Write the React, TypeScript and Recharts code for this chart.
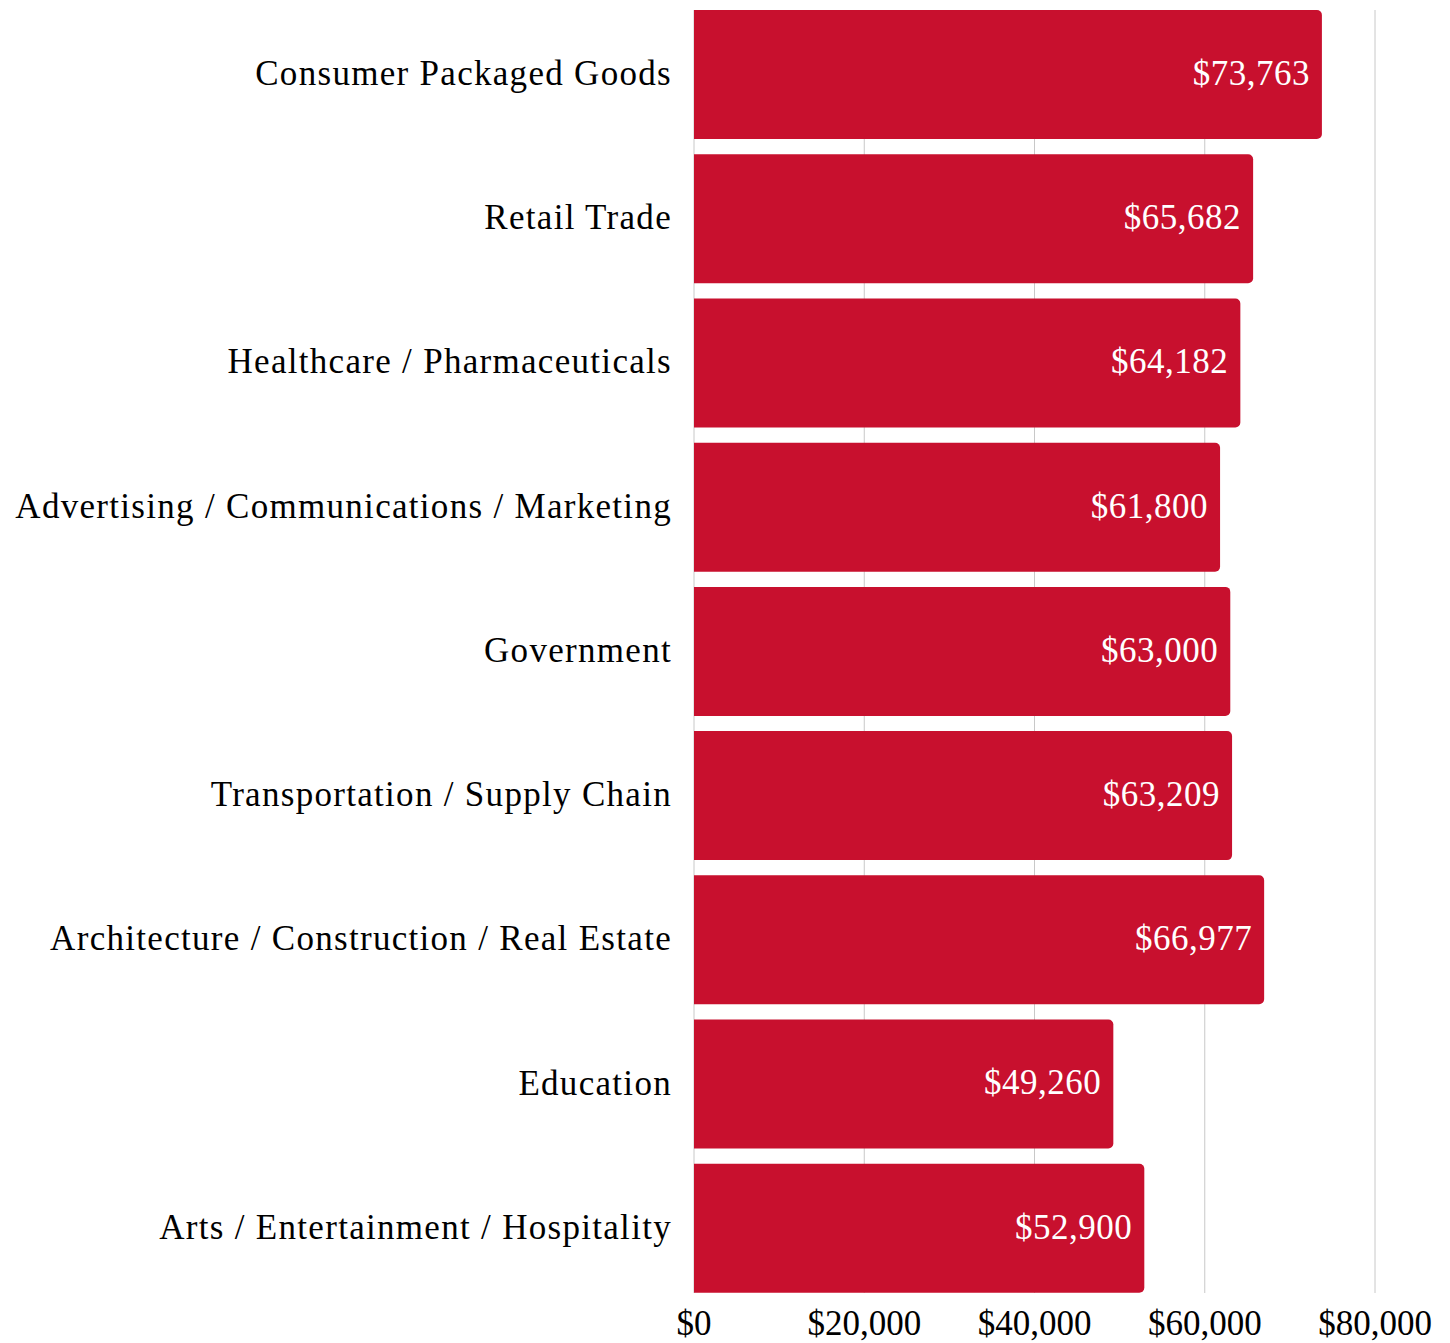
import { Bar, BarChart, CartesianGrid, LabelList, XAxis, YAxis } from "recharts"

const industries = [
  "Consumer Packaged Goods",
  "Retail Trade",
  "Healthcare / Pharmaceuticals",
  "Advertising / Communications / Marketing",
  "Government",
  "Transportation / Supply Chain",
  "Architecture / Construction / Real Estate",
  "Education",
  "Arts / Entertainment / Hospitality",
]

const salaries = [73763, 65682, 64182, 61800, 63000, 63209, 66977, 49260, 52900]

const xTicks = [0, 20000, 40000, 60000, 80000]

const data = industries.map((name, i) => ({ name, salary: salaries[i] }))

const money = (v: number) => "$" + v.toLocaleString("en-US")

const font = "'Liberation Serif', 'Times New Roman', serif"

export default function App() {
  return (
    <div style={{ position: "absolute", left: 0, top: 0 }}>
      <BarChart
        width={1450}
        height={1343}
        data={data}
        layout="vertical"
        margin={{ top: 10, right: 75, bottom: 0, left: 0 }}
        barCategoryGap={7.5}
      >
        <CartesianGrid horizontal={false} stroke="#c8c8c8" />
        <XAxis
          type="number"
          domain={[0, 80000]}
          ticks={xTicks}
          tickFormatter={money}
          axisLine={false}
          tickLine={false}
          tickSize={0}
          tickMargin={17}
          height={50}
          interval={0}
          tick={{ fill: "#000", fontSize: 35, fontFamily: font }}
        />
        <YAxis
          type="category"
          dataKey="name"
          width={694}
          axisLine={false}
          tickLine={false}
          tickSize={0}
          tickMargin={22}
          interval={0}
          padding={{ top: -7.5, bottom: -7.5 }}
          tick={{ fill: "#000", fontSize: 35, fontFamily: font, letterSpacing: 1.3, dy: -2 }}
        />
        <Bar dataKey="salary" fill="#C8102E" radius={[0, 5, 5, 0]} isAnimationActive={false}>
          <LabelList
            dataKey="salary"
            position="insideRight"
            offset={12}
            formatter={(v: any) => money(Number(v))}
            fill="#fff"
            fontSize={35}
            fontFamily={font}
            letterSpacing={0.5}
            dy={-2}
          />
        </Bar>
      </BarChart>
    </div>
  )
}
